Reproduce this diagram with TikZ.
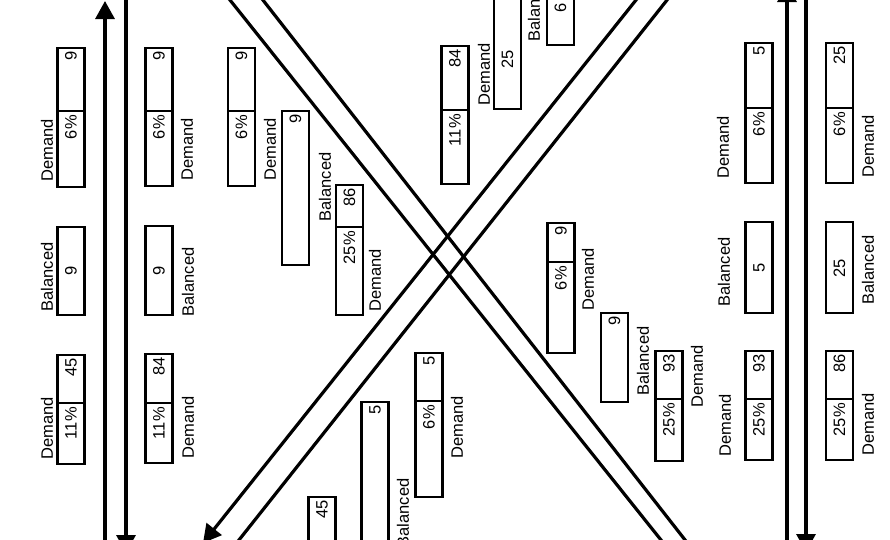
\documentclass[tikz,border=0pt]{standalone}
\usepackage{fontspec}
\setmainfont{Liberation Sans}
\usetikzlibrary{arrows.meta}

\begin{document}
\begin{tikzpicture}[x=1pt,y=-1pt]
\tikzstyle{cell}=[draw,line width=2.6pt]
\tikzstyle{axis}=[line width=3.2pt]
\tikzstyle{head}=[-{Triangle[length=18pt,width=19pt]}]
\tikzstyle{lbl}=[rotate=90,inner sep=0pt,font=\fontsize{16.5}{17}\selectfont]
\tikzstyle{val}=[rotate=90,anchor=east,inner sep=0pt,font=\fontsize{16.5}{17}\selectfont]
\useasboundingbox (0,0) rectangle (890,539);
\clip (0,0) rectangle (890,539);
% demand boxes: share | value
\foreach \name/\cx/\ya/\yb/\yc/\num/\pct in {
	a1/71/48/111/187/9/6,
	a3/71/355/403/464/45/11,
	b1/159/48/111/186/9/6,
	b3/159/354/403/463/84/11,
	c1/241.5/48/111/186/9/6,
	c3/349.5/185/227/315/86/25,
	d3/429/353/401/497/5/6,
	e1/455/46/110/184/84/11,
	e2/561/223/262/353/9/6,
	e4/669/351/399/461/93/25,
	f1/759/43/108/183/5/6,
	f3/759/351/399/460/93/25,
	g1/839.5/43/108/183/25/6,
	g3/839.5/351/399/460/86/25}
{
	\draw[cell] (\cx-13.5,\ya) rectangle (\cx+13.5,\yc);
	\draw[cell] (\cx-13.5,\yb) -- (\cx+13.5,\yb);
	\node[val] (\name v) at (\cx,\ya+3) {\num};
	\node[val] (\name p) at (\cx,\yb+4) {\pct\%};
}
% balanced boxes
\foreach \name/\cx/\ya/\yc/\num/\yn in {
	a2/71/227/315/9/266,
	b2/159/226/315/9/266,
	c2/295.5/111/265/9/114,
	d1/322/497/560/45/500,
	d2/375/402/560/5/405,
	e3/614.5/313/402/9/316,
	f2/759/222/313/5/263,
	g2/839.5/222/313/25/259,
	u1/507.5/-10/109/25/50,
	u2/560.5/-10/45/6/3}
{
	\draw[cell] (\cx-13.5,\ya) rectangle (\cx+13.5,\yc);
	\node[val] (\name v) at (\cx,\yn) {\num};
}
\foreach \name/\point/\txt in {
	la1/{47,150}/Demand, la2/{47,277}/Balanced, la3/{47,428}/Demand,
	lb1/{187,149}/Demand, lb2/{188,282}/Balanced, lb3/{188,427}/Demand,
	lc1/{270,149}/Demand, lc2/{325,187}/Balanced, lc3/{375,280}/Demand,
	ld2/{403,513}/Balanced, ld3/{457,427}/Demand,
	lu1/{484,74}/Demand, lu2/{534,7}/Balanced,
	le2/{588,279}/Demand, le3/{643,361}/Balanced, le4/{697,376}/Demand,
	lf1/{723,147}/Demand, lf2/{724,272}/Balanced, lf3/{725,425}/Demand,
	lg1/{868,146}/Demand, lg2/{868,270}/Balanced, lg3/{868,424}/Demand}
	\node[lbl] (\name) at (\point) {\txt};
\foreach \name/\point in {
	ul0/{105,560}, ul1/{105,1},
	dl0/{126,-20}, dl1/{126,553},
	ur0/{787,560}, ur1/{787,-16},
	dr0/{806,-20}, dr1/{806,552},
	p0/{640,-5}, p1/{203,543},
	q0/{671,-5}, q1/{235,545},
	r0/{226,-5}, r1/{665,545},
	s0/{259,-5}, s1/{689,545}}
	\coordinate (\name) at (\point);
	\draw[axis,head] (ul0) -- (ul1);
	\draw[axis,head] (dl0) -- (dl1);
	\draw[axis,head] (ur0) -- (ur1);
	\draw[axis,head] (dr0) -- (dr1);
	\draw[axis,head] (p0) -- (p1);
	\draw[axis] (q0) -- (q1);
	\draw[axis] (r0) -- (r1);
	\draw[axis] (s0) -- (s1);
\end{tikzpicture}
\end{document}
